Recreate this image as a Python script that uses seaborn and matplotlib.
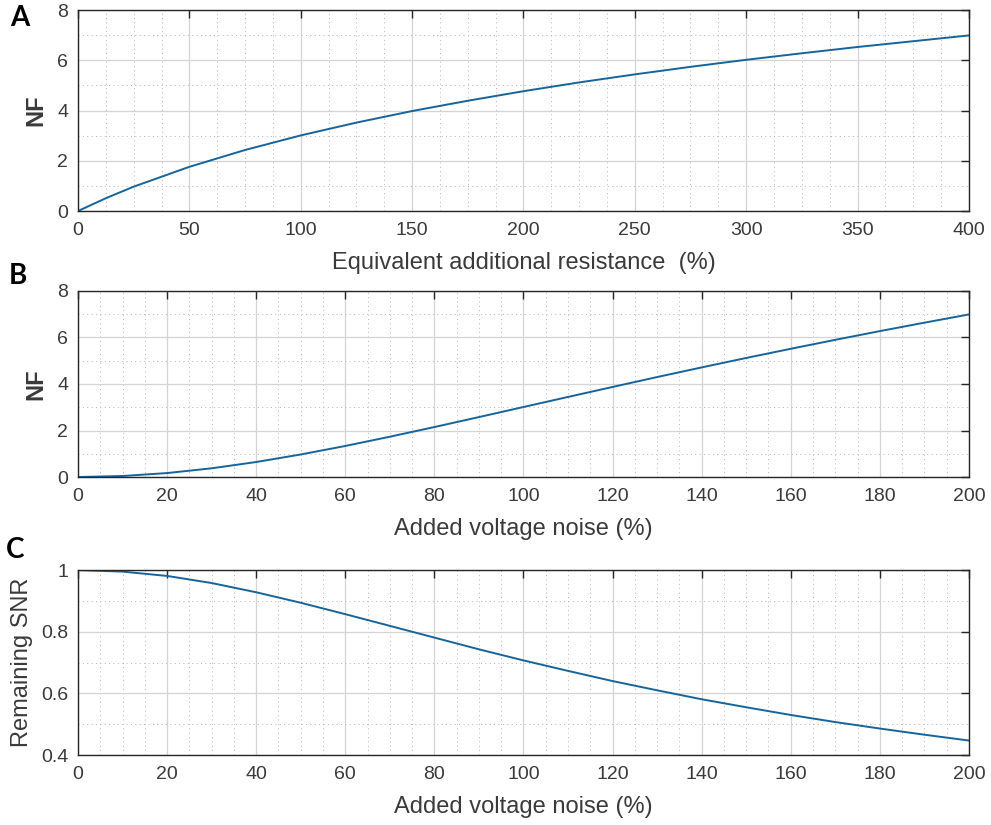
import numpy as np
import pandas as pd
import seaborn as sns
import matplotlib
matplotlib.use("Agg")
import matplotlib.pyplot as plt
from matplotlib.ticker import MultipleLocator, FuncFormatter

# Panel A: noise figure vs. equivalent additional resistance
res_pct = [0, 12.5, 25, 50, 75, 100, 125, 150, 175, 200, 225, 250, 275, 300, 325, 350, 375, 400]
nf_res = [0, 0.51, 0.97, 1.76, 2.43, 3.01, 3.52, 3.98, 4.39, 4.77, 5.12, 5.44, 5.74, 6.02, 6.28, 6.53, 6.76, 6.99]

# Panel B: noise figure vs. added voltage noise
vn_pct = [0, 10, 20, 30, 40, 50, 60, 70, 80, 90, 100, 110, 120, 130, 140, 150, 160, 170, 180, 190, 200]
nf_vn = [0, 0.043, 0.17, 0.374, 0.645, 0.969, 1.335, 1.732, 2.148, 2.577, 3.01,
         3.443, 3.872, 4.298, 4.713, 5.119, 5.514, 5.899, 6.274, 6.637, 6.99]

# Panel C: remaining SNR vs. added voltage noise
snr_vn = [1.0, 0.995, 0.981, 0.958, 0.928, 0.894, 0.857, 0.819, 0.781, 0.743, 0.707,
          0.673, 0.640, 0.610, 0.581, 0.555, 0.530, 0.507, 0.486, 0.466, 0.447]

panel_letters = ["A", "B", "C"]
x_labels = ["Equivalent additional resistance  (%)", "Added voltage noise (%)", "Added voltage noise (%)"]
y_labels = ["NF", "NF", "Remaining SNR"]

sns.set_style("white")
plt.rcParams["font.family"] = ["Liberation Sans", "DejaVu Sans"]

LINE = "#17649b"
TXT = "#3a3a3a"

fig = plt.figure(figsize=(9.91, 8.25), dpi=100)
L, W = 0.0787, 0.899
ax_a = fig.add_axes([L, 0.7442, W, 0.2436])
ax_b = fig.add_axes([L, 0.4218, W, 0.2255])
ax_c = fig.add_axes([L, 0.0848, W, 0.2242])

frames = [
    pd.DataFrame({"x": res_pct, "y": nf_res}),
    pd.DataFrame({"x": vn_pct, "y": nf_vn}),
    pd.DataFrame({"x": vn_pct, "y": snr_vn}),
]
xlims = [(0, 400), (0, 200), (0, 200)]
ylims = [(0, 8), (0, 8), (0.4, 1.0)]
xmaj = [50, 20, 20]
ymaj = [2, 2, 0.2]

for i, ax in enumerate([ax_a, ax_b, ax_c]):
    sns.lineplot(data=frames[i], x="x", y="y", ax=ax, color=LINE, linewidth=1.4, zorder=5)
    ax.set_xlim(*xlims[i])
    ax.set_ylim(*ylims[i])
    ax.xaxis.set_major_locator(MultipleLocator(xmaj[i]))
    ax.xaxis.set_minor_locator(MultipleLocator(xmaj[i] / 4))
    ax.yaxis.set_major_locator(MultipleLocator(ymaj[i]))
    ax.yaxis.set_minor_locator(MultipleLocator(ymaj[i] / 2))
    ax.yaxis.set_major_formatter(FuncFormatter(lambda v, p: f"{v:g}"))
    ax.grid(which="major", color="#d4d4d4", linewidth=0.9, linestyle="-")
    ax.grid(which="minor", color="#b5b5b5", linewidth=0.7, linestyle=(0, (1, 3.5)))
    ax.set_axisbelow(True)
    for s in ax.spines.values():
        s.set_color("#262626")
        s.set_linewidth(1.0)
        s.set_visible(True)
        s.set_zorder(6)
    ax.tick_params(which="major", direction="in", length=6, width=1.0, color="#262626",
                   top=True, right=True, labelsize=14, labelcolor=TXT)
    ax.tick_params(which="minor", length=0)
    ax.tick_params(axis="x", pad=8)
    ax.tick_params(axis="y", pad=7)
    ax.set_xlabel(x_labels[i], fontsize=17, color=TXT, labelpad=9)
    if i < 2:
        ax.set_ylabel(y_labels[i], fontsize=17, fontweight="bold", color=TXT, labelpad=7)
    else:
        ax.set_ylabel(y_labels[i], fontsize=17, color=TXT, labelpad=6)

# Panel letters
for letter, (px, py) in zip(panel_letters, [(20, 18), (18, 276), (15, 550)]):
    fig.text(px / 991, 1 - py / 825, letter, fontsize=20, fontweight="bold",
             family=["Lato", "DejaVu Sans"], ha="center", va="center", color="black")

fig.savefig("out.png", dpi=100, facecolor="white")
